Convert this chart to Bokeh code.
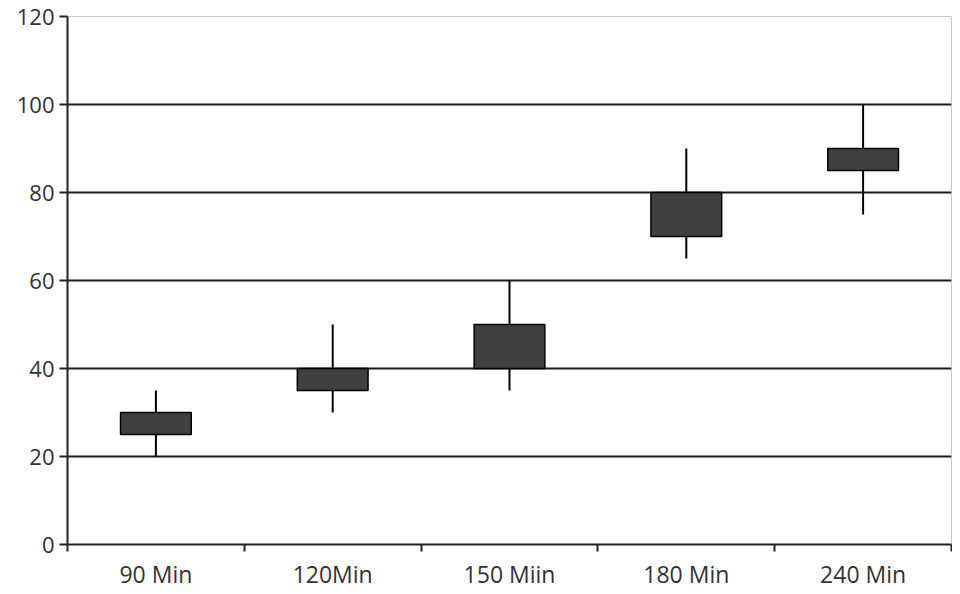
from bokeh.plotting import figure
from bokeh.models import FixedTicker, ColumnDataSource, Range1d
from bokeh.embed import file_html
from bokeh.resources import INLINE

categories = ["90 Min", "120Min", "150 Miin", "180 Min", "240 Min"]
low = [20, 30, 35, 65, 75]
q1 = [25, 35, 40, 70, 85]
q3 = [30, 40, 50, 80, 90]
high = [35, 50, 60, 90, 100]
y_ticks = [0, 20, 40, 60, 80, 100, 120]

xs = [i + 0.5 for i in range(len(categories))]
src = ColumnDataSource(dict(x=xs, low=low, q1=q1, q3=q3, high=high))

p = figure(width=952, height=592, output_backend="svg", toolbar_location=None,
           x_range=Range1d(0, len(categories)), y_range=Range1d(0, 120),
           min_border_left=67, min_border_right=1, min_border_top=16, min_border_bottom=46)

p.segment(x0="x", y0="low", x1="x", y1="high", source=src, line_color="black", line_width=2)
p.vbar(x="x", bottom="q1", top="q3", width=0.4, source=src,
       fill_color="#404040", line_color="black", line_width=1.5)

font = "Open Sans"
# x axis
p.xaxis.ticker = FixedTicker(ticks=xs, minor_ticks=list(range(len(categories) + 1)))
p.xaxis.major_label_overrides = {x: c for x, c in zip(xs, categories)}
p.xaxis.major_tick_line_color = None
p.xaxis.major_tick_in = 0
p.xaxis.major_tick_out = 0
p.xaxis.minor_tick_in = 0
p.xaxis.minor_tick_out = 7
p.xaxis.minor_tick_line_color = "#222222"
p.xaxis.minor_tick_line_width = 2
p.xaxis.axis_line_color = "#222222"
p.xaxis.axis_line_width = 2
p.xaxis.major_label_text_font = font
p.xaxis.major_label_text_font_size = "23px"
p.xaxis.major_label_text_color = "#333333"
p.xaxis.major_label_standoff = 6

# y axis
p.yaxis.ticker = FixedTicker(ticks=y_ticks)
p.yaxis.minor_tick_line_color = None
p.yaxis.major_tick_in = 0
p.yaxis.major_tick_out = 8
p.yaxis.major_tick_line_color = "#222222"
p.yaxis.major_tick_line_width = 2
p.yaxis.axis_line_color = "#222222"
p.yaxis.axis_line_width = 2
p.yaxis.major_label_text_font = font
p.yaxis.major_label_text_font_size = "22px"
p.yaxis.major_label_text_color = "#333333"
p.yaxis.major_label_standoff = 5

p.xgrid.grid_line_color = None
p.ygrid.ticker = FixedTicker(ticks=y_ticks)
p.ygrid.grid_line_color = "#1a1a1a"
p.ygrid.grid_line_width = 2

p.outline_line_color = "#c8c8c8"
p.outline_line_width = 1

open("out.html", "w").write(file_html(p, INLINE))
